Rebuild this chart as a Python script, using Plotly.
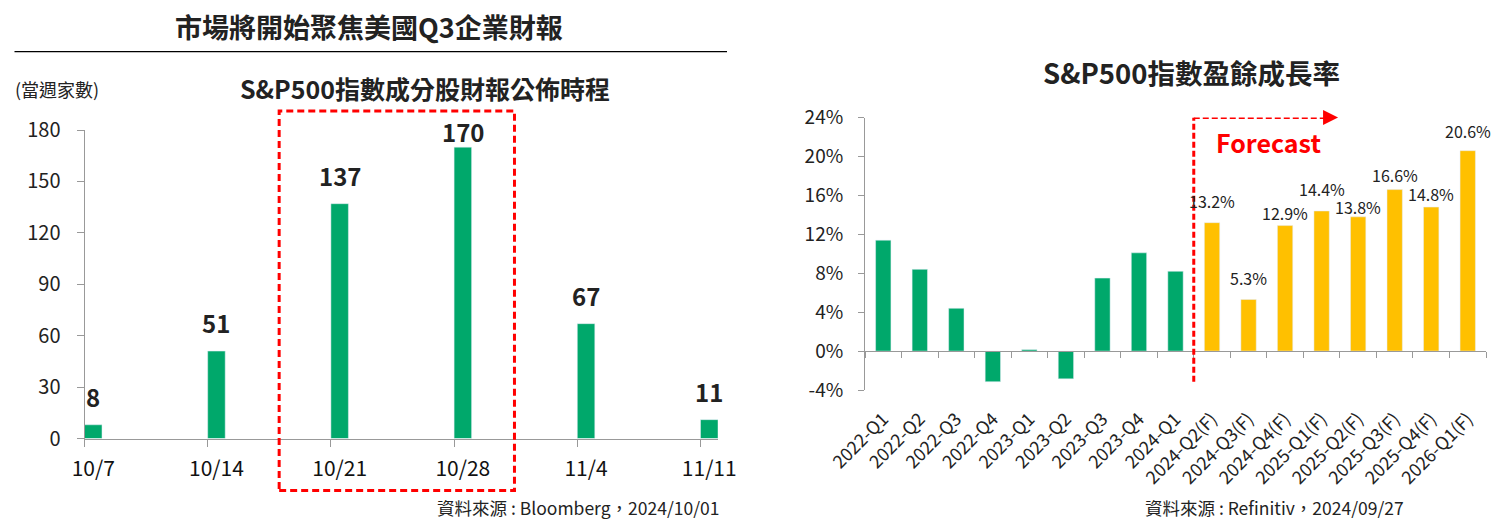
"""Q3 earnings season: reporting calendar and S&P500 EPS growth."""

import plotly.graph_objects as go

# left panel: number of S&P500 members reporting each week
weeks = ["10/7", "10/14", "10/21", "10/28", "11/4", "11/11"]
reports = [8, 51, 137, 170, 67, 11]
count_ticks = [0, 30, 60, 90, 120, 150, 180]

# right panel: S&P500 earnings growth (%)
quarters = [
    "2022-Q1", "2022-Q2", "2022-Q3", "2022-Q4", "2023-Q1", "2023-Q2",
    "2023-Q3", "2023-Q4", "2024-Q1", "2024-Q2(F)", "2024-Q3(F)", "2024-Q4(F)",
    "2025-Q1(F)", "2025-Q2(F)", "2025-Q3(F)", "2025-Q4(F)", "2026-Q1(F)",
]
growth = [11.4, 8.4, 4.4, -3.15, 0.15, -2.85, 7.5, 10.1, 8.2,
          13.2, 5.3, 12.9, 14.4, 13.8, 16.6, 14.8, 20.6]
growth_ticks = [-4, 0, 4, 8, 12, 16, 20, 24]

# the page body keeps its default 8px margin, so the figure is drawn inset
PAGE_W, PAGE_H, BODY = 1500, 529, 8
W, H = PAGE_W - 2 * BODY, PAGE_H - 2 * BODY
FONT = "Noto Sans CJK TC, Noto Sans, sans-serif"
GREEN = "#00A86B"
YELLOW = "#FFC000"
RED = "#FF0000"
AXIS = "#999999"
TEXT = "#222222"
BAR_W = 0.142
# per-label lift (px) for the forecast labels, staggered so neighbours don't collide
FC_LIFT = {"2024-Q4(F)": -1, "2025-Q2(F)": -4, "2025-Q3(F)": 1,
           "2025-Q4(F)": -1, "2026-Q1(F)": 6}


def px(x):
    """page pixel -> paper fraction"""
    return (x - BODY) / W


def py(y):
    return 1 - (y - BODY) / H


# plot areas in page pixels (left, right, bottom, top)
L_BOX = (84.5, 718, 438.5, 130)
R_BOX = (865, 1486, 390, 117.6)

fig = go.Figure()

# ---- left: reporting calendar
xs = list(range(len(weeks)))
x_end = len(weeks) - 1 + BAR_W
fig.add_trace(go.Bar(
    x=xs, y=reports, offset=0, width=BAR_W, marker_color=GREEN,
    xaxis="x", yaxis="y", showlegend=False, hoverinfo="y",
))
# invisible helper so the label axis gets drawn
fig.add_trace(go.Scatter(
    x=[0, x_end], y=[0, 0], xaxis="x3", yaxis="y", mode="lines",
    opacity=0, showlegend=False, hoverinfo="skip",
))
unit_px = (L_BOX[2] - L_BOX[3]) / (count_ticks[-1] - count_ticks[0])
for i, v in zip(xs, reports):
    # labels near the top are squeezed down to stay inside the plot area
    headroom = (count_ticks[-1] - v) * unit_px
    fig.add_annotation(
        x=i + BAR_W / 2, y=v, xref="x", yref="y", text=f"<b>{v}</b>",
        showarrow=False, yanchor="bottom", yshift=min(9, headroom - 21),
        font=dict(size=24, color=TEXT, family=FONT),
    )

# ---- right: earnings growth
is_fc = [q.endswith("(F)") for q in quarters]
fig.add_trace(go.Bar(
    x=quarters, y=growth, marker_color=[YELLOW if f else GREEN for f in is_fc],
    xaxis="x2", yaxis="y2", showlegend=False,
))
fig.add_trace(go.Scatter(
    x=[-0.5, len(quarters) - 0.5], y=[0, 0], xaxis="x4", yaxis="y2",
    mode="lines", opacity=0, showlegend=False, hoverinfo="skip",
))
for q, v, f in zip(quarters, growth, is_fc):
    if f:
        fig.add_annotation(
            x=q, y=v, xref="x2", yref="y2", text=f"{v:.1f}%",
            showarrow=False, yanchor="bottom", yshift=FC_LIFT.get(q, 8),
            font=dict(size=16, color=TEXT, family=FONT),
        )

left_x = [px(L_BOX[0]), px(L_BOX[1])]
left_y = [py(L_BOX[2]), py(L_BOX[3])]
right_x = [px(R_BOX[0]), px(R_BOX[1])]
right_y = [py(R_BOX[2]), py(R_BOX[3])]
g_min, g_max = growth_ticks[0], growth_ticks[-1]
zero_pos = right_y[0] + (0 - g_min) / (g_max - g_min) * (right_y[1] - right_y[0])

fig.update_layout(
    width=W, height=H,
    margin=dict(l=0, r=0, t=0, b=0, autoexpand=False),
    paper_bgcolor="white", plot_bgcolor="white",
    font=dict(family=FONT, color=TEXT),
    bargap=0.58,
    xaxis=dict(
        domain=left_x, anchor="y", range=[0, x_end],
        tickvals=xs, showticklabels=False, ticks="outside", ticklen=7,
        tickcolor=AXIS, showline=True, linecolor=AXIS, linewidth=1,
        showgrid=False, zeroline=False, automargin=False,
    ),
    xaxis3=dict(
        overlaying="x", anchor="y", range=[0, x_end],
        tickvals=[i + BAR_W / 2 for i in xs], ticktext=weeks,
        ticks="", showline=False, showgrid=False, zeroline=False,
        automargin=False, ticklabelstandoff=15,
        tickfont=dict(size=21, color="#111", family=FONT),
    ),
    yaxis=dict(
        domain=left_y, anchor="x", range=[count_ticks[0], count_ticks[-1]],
        tickvals=count_ticks, ticks="outside", ticklen=7, tickcolor=AXIS,
        showline=True, linecolor=AXIS, showgrid=False, zeroline=False,
        automargin=False, ticklabelstandoff=12,
        tickfont=dict(size=20, color=TEXT, family=FONT),
    ),
    xaxis2=dict(
        domain=right_x, anchor="y2", type="category",
        range=[-0.5, len(quarters) - 0.5],
        tickangle=-45, ticks="", showline=False, showgrid=False,
        automargin=False, ticklabelstandoff=14,
        tickfont=dict(size=18, color=TEXT, family=FONT),
    ),
    xaxis4=dict(
        overlaying="x2", anchor="free", position=zero_pos,
        range=[-0.5, len(quarters) - 0.5],
        tickvals=[i - 0.5 for i in range(len(quarters) + 1)],
        showticklabels=False, ticks="outside", ticklen=6, tickcolor=AXIS,
        showline=True, linecolor=AXIS, showgrid=False, zeroline=False,
        automargin=False,
    ),
    yaxis2=dict(
        domain=right_y, anchor="x2", range=[g_min, g_max],
        tickvals=growth_ticks, ticktext=[f"{v}%" for v in growth_ticks],
        ticks="outside", ticklen=6, tickcolor=AXIS,
        showline=True, linecolor=AXIS, showgrid=False, zeroline=False,
        automargin=False, ticklabelstandoff=11,
        tickfont=dict(size=19, color=TEXT, family=FONT),
    ),
)

# titles and notes: (text, x, y, size, x anchor, y anchor)
notes = [
    ("<b>市場將開始聚焦美國Q3企業財報</b>", 369, 27, 27, "center", "middle"),
    ("<b>S&P500指數成分股財報公佈時程</b>", 425, 88, 25, "center", "middle"),
    ("(當週家數)", 14, 89, 18, "left", "middle"),
    ("資料來源 : Bloomberg，2024/10/01", 720, PAGE_H - BODY, 17.5, "right", "bottom"),
    ("<b>S&P500指數盈餘成長率</b>", 1191, 72, 27.5, "center", "middle"),
    ("資料來源 : Refinitiv，2024/09/27", 1405, PAGE_H - BODY, 17.5, "right", "bottom"),
]
for text, x, y, size, xa, ya in notes:
    fig.add_annotation(
        x=px(x), y=py(y), xref="paper", yref="paper", text=text,
        showarrow=False, xanchor=xa, yanchor=ya, borderpad=0,
        font=dict(size=size, color=TEXT, family=FONT),
    )

fig.add_shape(type="line", xref="paper", yref="paper",
              x0=px(14.5), x1=px(727), y0=py(51.7), y1=py(51.7),
              line=dict(color="#000000", width=1.2))

# highlight box around peak weeks
fig.add_shape(type="rect", xref="x", yref="paper",
              x0=1.58, x1=3.49, y0=py(490.5), y1=py(111),
              line=dict(color=RED, width=3, dash="7px,4px"))

# forecast marker
split = 8.5
fig.add_shape(type="line", xref="x2", yref="y2", x0=split, x1=split,
              y0=-3.15, y1=g_max, line=dict(color=RED, width=3, dash="6px,3px"))
fig.add_shape(type="line", xref="x2", yref="y2", x0=split, x1=12.2,
              y0=g_max, y1=g_max, line=dict(color=RED, width=3, dash="6px,3px"))
fig.add_annotation(x=12.45, y=g_max, ax=12.15, ay=g_max, xref="x2", yref="y2",
                   axref="x2", ayref="y2", text="", showarrow=True,
                   arrowhead=2, arrowsize=1, arrowwidth=3, arrowcolor=RED)
fig.add_annotation(x=10.55, y=21.5, xref="x2", yref="y2", text="<b>Forecast</b>",
                   showarrow=False, font=dict(size=25, color=RED, family=FONT))

fig.write_html("out.html")
